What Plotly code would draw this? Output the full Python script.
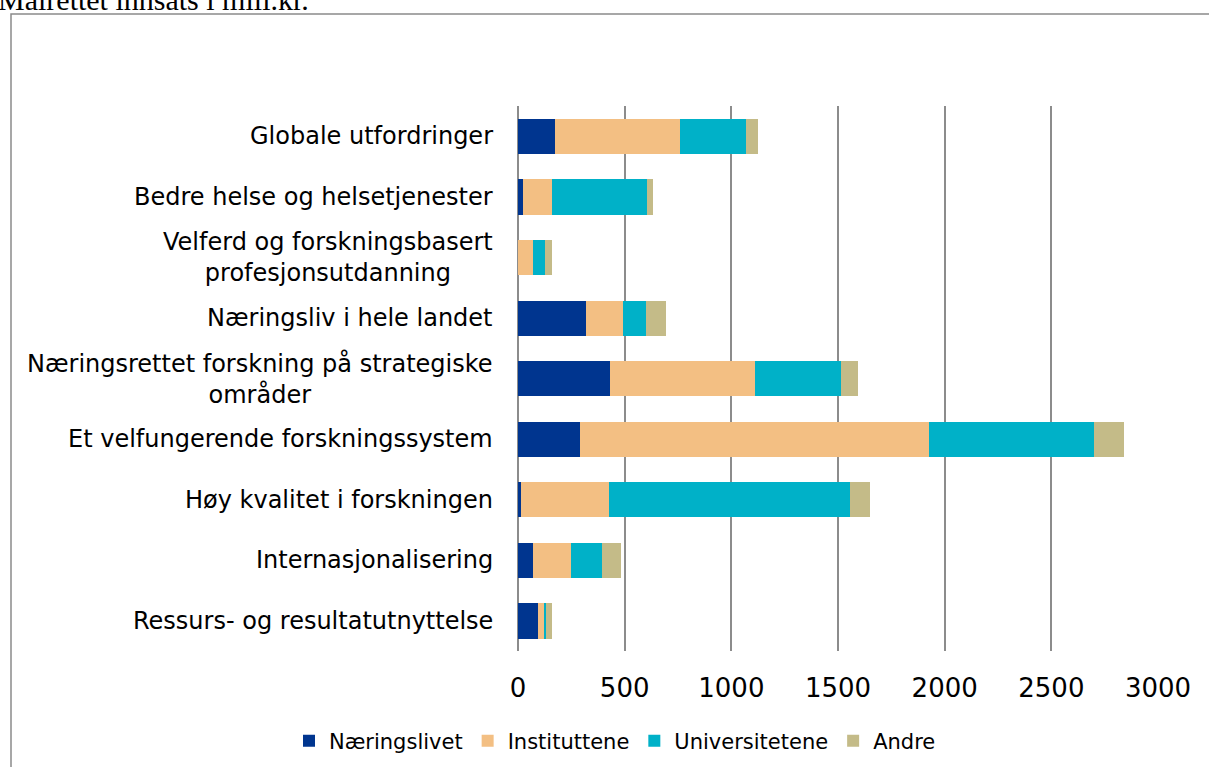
import plotly.graph_objects as go

W, H = 1209, 767

categories = [
    "Globale utfordringer",
    "Bedre helse og helsetjenester",
    "Velferd og forskningsbasert<br>profesjonsutdanning",
    "Næringsliv i hele landet",
    "Næringsrettet forskning på strategiske<br>områder",
    "Et velfungerende forskningssystem",
    "Høy kvalitet i forskningen",
    "Internasjonalisering",
    "Ressurs- og resultatutnyttelse",
]
naeringslivet = [173, 22, 0, 319, 433, 290, 16, 70, 93]
instituttene = [587, 136, 70, 173, 677, 1637, 410, 178, 32]
universitetene = [309, 445, 57, 108, 404, 774, 1130, 147, 6]
andre = [55, 31, 32, 95, 81, 139, 94, 88, 27]

series_names = ["Næringslivet", "Instituttene", "Universitetene", "Andre"]
series_values = [naeringslivet, instituttene, universitetene, andre]
colors = ["#00358F", "#F3BF83", "#00B1C8", "#C4BB88"]

x_ticks = [0, 500, 1000, 1500, 2000, 2500, 3000]
title_text = "Målrettet innsats i mill.kr."

fig = go.Figure()
for name, vals, col in zip(series_names, series_values, colors):
    fig.add_trace(go.Bar(
        y=categories, x=vals, name=name, orientation="h",
        marker=dict(color=col, line=dict(width=0)),
    ))

x0p, x1p = 518 / W, 1158 / W
fig.update_layout(
    width=W, height=H,
    margin=dict(l=0, r=0, t=0, b=0),
    paper_bgcolor="white", plot_bgcolor="white",
    barmode="stack", bargap=0.42,
    font=dict(family="DejaVu Sans", color="#000000"),
    xaxis=dict(
        domain=[x0p, x1p], range=[0, 3000], tickvals=x_ticks,
        showgrid=True, gridcolor="#8C8C8C", gridwidth=2,
        zeroline=True, zerolinecolor="#8C8C8C", zerolinewidth=2,
        showline=False, ticks="outside", ticklen=13, tickcolor="rgba(0,0,0,0)",
        tickfont=dict(size=26, family="DejaVu Sans", color="#000"),
        automargin=False, fixedrange=True,
    ),
    yaxis=dict(
        domain=[(H - 651.3) / H, (H - 106.2) / H], autorange="reversed",
        showticklabels=False, showgrid=False, zeroline=False, showline=False,
        automargin=False, fixedrange=True,
    ),
    legend=dict(
        orientation="h", x=615 / W, xanchor="center", y=(H - 741) / H, yanchor="middle",
        font=dict(size=21, family="DejaVu Sans", color="#000"),
        traceorder="normal", bgcolor="rgba(0,0,0,0)",
    ),
    showlegend=True,
)

annotations = []
for c in categories:
    annotations.append(dict(
        xref="paper", yref="y", x=x0p, y=c, xanchor="right", yanchor="middle",
        xshift=-23, text=c, showarrow=False, align="center",
        font=dict(size=24, family="DejaVu Sans", color="#000"),
    ))
annotations.append(dict(
    xref="paper", yref="paper", x=0, y=1, xanchor="left", yanchor="bottom",
    xshift=-4, yshift=-18, text=title_text, showarrow=False,
    font=dict(size=30, family="Liberation Serif", color="#000"),
))
fig.update_layout(annotations=annotations)

fig.add_shape(type="rect", xref="paper", yref="paper",
              x0=11 / W, x1=1.05, y0=-0.05, y1=(H - 14) / H,
              line=dict(color="#8A8A8A", width=1.5), fillcolor="rgba(0,0,0,0)", layer="below")

fig.write_html("out.html", config={"displayModeBar": False},
               post_script="document.body.style.margin='0';document.body.style.overflow='hidden';")
